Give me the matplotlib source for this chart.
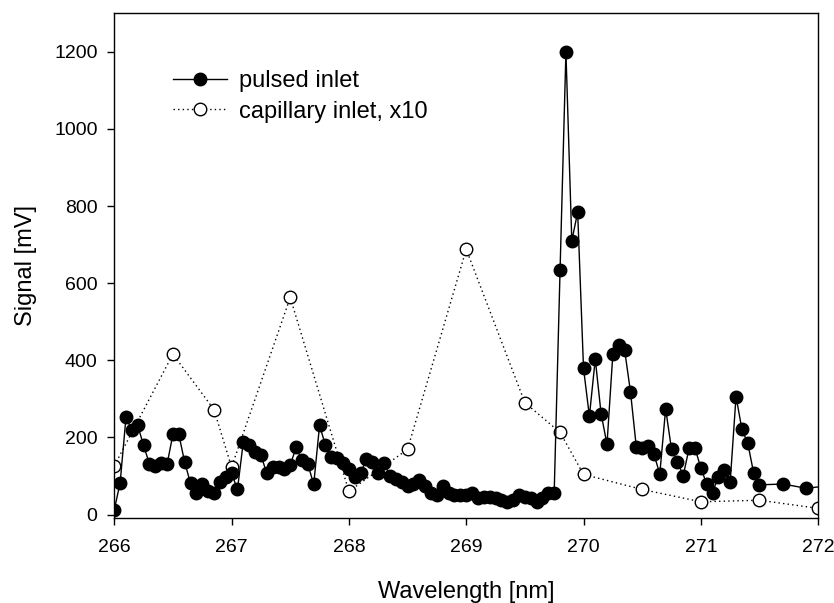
import matplotlib
matplotlib.use("Agg")
import matplotlib.pyplot as plt

plt.rcParams["font.family"] = ["Liberation Sans", "DejaVu Sans"]

# pulsed inlet, wavelength [nm] and signal [mV]
pulsed_wl = [
    266.00, 266.05, 266.10, 266.15, 266.20, 266.25, 266.30, 266.35, 266.40, 266.45,
    266.50, 266.55, 266.60, 266.65, 266.70, 266.75, 266.80, 266.85, 266.90, 266.95,
    267.00, 267.05, 267.10, 267.15, 267.20, 267.25, 267.30, 267.35, 267.40, 267.45,
    267.50, 267.55, 267.60, 267.65, 267.70, 267.75, 267.80, 267.85, 267.90, 267.95,
    268.00, 268.05, 268.10, 268.15, 268.20, 268.25, 268.30, 268.35, 268.40, 268.45,
    268.50, 268.55, 268.60, 268.65, 268.70, 268.75, 268.80, 268.85, 268.90, 268.95,
    269.00, 269.05, 269.10, 269.15, 269.20, 269.25, 269.30, 269.35, 269.40, 269.45,
    269.50, 269.55, 269.60, 269.65, 269.70, 269.75, 269.80, 269.85, 269.90, 269.95,
    270.00, 270.05, 270.10, 270.15, 270.20, 270.25, 270.30, 270.35, 270.40, 270.45,
    270.50, 270.55, 270.60, 270.65, 270.70, 270.75, 270.80, 270.85, 270.90, 270.95,
    271.00, 271.05, 271.10, 271.15, 271.20, 271.25, 271.30, 271.35, 271.40, 271.45,
    271.50, 271.70, 271.90, 272.10,
]
pulsed_mv = [
    12, 82, 252, 219, 231, 179, 131, 126, 134, 130,
    208, 208, 136, 81, 56, 79, 60, 56, 85, 98,
    107, 65, 188, 180, 163, 154, 107, 124, 122, 117,
    128, 174, 141, 131, 78, 231, 180, 150, 146, 134,
    118, 96, 108, 143, 136, 107, 133, 100, 92, 85,
    74, 80, 89, 74, 57, 50, 75, 56, 50, 50,
    50, 55, 42, 46, 46, 42, 38, 33, 38, 51,
    46, 42, 33, 42, 55, 57, 633, 1200, 710, 784,
    379, 255, 403, 261, 182, 416, 440, 427, 319, 175,
    172, 178, 157, 105, 274, 169, 137, 101, 172, 172,
    121, 79, 57, 98, 115, 84, 306, 221, 185, 108,
    77, 79, 68, 75,
]

# capillary inlet, signal multiplied by 10
capillary_wl = [266.0, 266.5, 266.85, 267.0, 267.5, 268.0, 268.5, 269.0,
                269.5, 269.8, 270.0, 270.5, 271.0, 271.5, 272.0]
capillary_mv = [126, 416, 272, 123, 563, 60, 169, 688,
                290, 213, 104, 65, 33, 37, 16]

fig = plt.figure(figsize=(8.34, 6.03), dpi=100)
ax = fig.add_axes([0.137, 0.141, 0.844, 0.837])

ax.plot(pulsed_wl, pulsed_mv, color="black", lw=1.0, marker="o",
        ms=9, mfc="black", mec="black", label="pulsed inlet", zorder=3)
ax.plot(capillary_wl, capillary_mv, color="black", lw=1.0,
        linestyle=(0, (1.0, 2.3)), marker="o", ms=9, mfc="white",
        mec="black", mew=1.0, label="capillary inlet, x10", zorder=2)

ax.set_xlim(266, 272)
ax.set_ylim(-9, 1300)
ax.set_xticks([266, 267, 268, 269, 270, 271, 272])
ax.set_yticks([0, 200, 400, 600, 800, 1000, 1200])
ax.tick_params(direction="out", length=5, width=1, labelsize=14)
ax.tick_params(axis="x", pad=10)
ax.tick_params(axis="y", pad=7)
for s in ax.spines.values():
    s.set_linewidth(1.0)

ax.set_xlabel("Wavelength [nm]", fontsize=17)
ax.set_ylabel("Signal [mV]", fontsize=17)
ax.xaxis.set_label_coords(0.5, -0.125)
ax.yaxis.set_label_coords(-0.110, 0.5)

ax.legend(loc="upper left", bbox_to_anchor=(0.083, 0.887), frameon=False,
          fontsize=17, handlelength=2.3, handletextpad=0.5,
          labelspacing=0.35, borderpad=0, borderaxespad=0)

fig.savefig("out.png", dpi=100)
